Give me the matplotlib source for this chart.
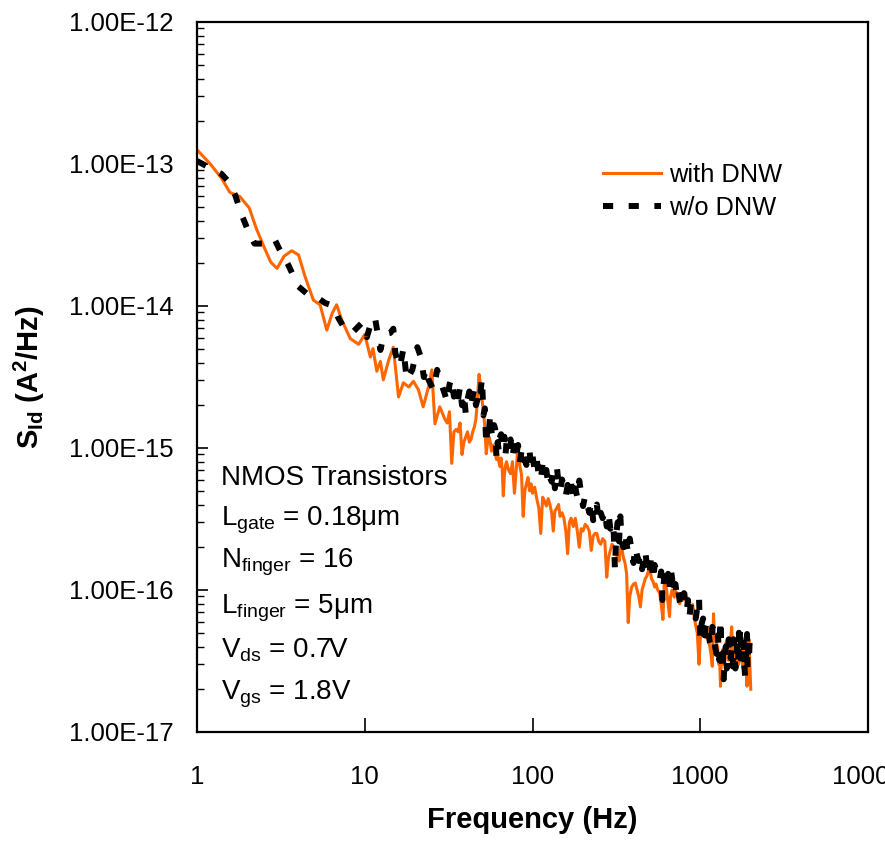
import matplotlib
matplotlib.use("Agg")
import matplotlib.pyplot as plt
from matplotlib.ticker import LogLocator, NullLocator, NullFormatter

plt.rcParams['font.family'] = ['Liberation Sans', 'DejaVu Sans']
plt.rcParams['mathtext.fontset'] = 'custom'
plt.rcParams['mathtext.rm'] = 'Liberation Sans'
plt.rcParams['mathtext.it'] = 'Liberation Sans:italic'
plt.rcParams['mathtext.bf'] = 'Liberation Sans:bold'

# ---------------- data ----------------
freq_with = [1, 1.2, 1.4, 1.57, 1.8, 2.05, 2.25, 2.5, 2.75, 3.0, 3.3, 3.67, 4.03, 4.4, 4.94,
             5.42, 5.94, 6.4, 6.8, 7.3, 8.2, 9.2, 10, 10.8, 11.2, 11.8, 12.4, 12.9, 13.9, 14.8,
             15.9, 17.0, 18.3, 19.5, 20.9, 22.3, 24, 25.1, 26.2, 28,
             30, 31, 32, 33, 34, 35, 36, 37, 38, 39, 40, 41, 42, 43, 44, 45, 46, 47, 48, 49,
             50, 51, 52, 53, 54, 55, 56, 57, 58, 59, 60, 61, 62, 63, 64, 65, 66, 67, 68, 69,
             70, 72, 74, 76, 78, 80, 82, 84, 86, 88, 90, 92, 94, 96, 98,
             100, 103, 106, 109, 112, 115, 118, 121, 124, 127, 130, 133, 136, 140, 143, 146, 150,
             154, 158, 162, 166, 170, 175, 180, 185, 190, 195,
             200, 206, 212, 218, 224, 230, 236, 242, 248, 255, 262, 270, 277, 284, 291, 298,
             305, 310, 316, 322, 328, 334, 340, 348, 356, 364, 372, 380, 390,
             400, 410, 420, 430, 440, 450, 460, 470, 480, 490,
             500, 512, 523, 535, 545, 558, 573, 585, 599, 612, 620, 630, 643, 656, 665, 680, 690,
             700, 712, 725, 740, 755, 770, 787, 800, 823, 845, 860, 880, 900, 920, 940, 960, 983,
             1000, 1020, 1040, 1060, 1080, 1100, 1120, 1140, 1160, 1180, 1200, 1215, 1230, 1250,
             1270, 1290, 1305, 1320, 1340, 1360, 1380, 1400, 1420, 1450, 1470, 1500, 1520, 1540,
             1560, 1590, 1610, 1640, 1665, 1690, 1715, 1740, 1770, 1800, 1825, 1850, 1875, 1900,
             1925, 1950, 1975, 2000]
sid_with = [1.26e-13, 1.00e-13, 7.94e-14, 6.31e-14, 5.9e-14, 4.9e-14, 3.55e-14, 2.63e-14, 2.04e-14, 1.84e-14,
            2.24e-14, 2.45e-14, 2.29e-14, 1.62e-14, 1.10e-14, 1.02e-14, 6.76e-15, 8.91e-15, 1.02e-14, 7.94e-15,
            5.89e-15, 5.37e-15, 6.31e-15, 4.37e-15, 5.01e-15, 3.47e-15, 4.07e-15, 3.02e-15, 4.17e-15, 5.13e-15,
            2.29e-15, 2.88e-15, 2.69e-15, 2.95e-15, 2.57e-15, 1.95e-15, 2.69e-15, 3.55e-15, 1.48e-15, 1.95e-15,
            1.6e-15, 1.5e-15, 1.8e-15, 7.8e-16, 1.3e-15, 1.35e-15, 1.3e-15, 1.5e-15, 9.0e-16, 1.1e-15,
            1.2e-15, 1.3e-15, 1.1e-15, 1.15e-15, 1.3e-15, 1.4e-15, 1.6e-15, 2.2e-15, 3.3e-15, 2.8e-15,
            2.2e-15, 1.8e-15, 1.4e-15, 9.1e-16, 1.1e-15, 1.2e-15, 1.1e-15, 9.5e-16, 1.05e-15, 1.0e-15,
            9.0e-16, 8.3e-16, 9.0e-16, 8.0e-16, 7.4e-16, 8.5e-16, 7.0e-16, 4.6e-16, 6.5e-16, 7.5e-16,
            8.0e-16, 7.0e-16, 6.6e-16, 8.0e-16, 4.8e-16, 7.0e-16, 1.07e-15, 7.5e-16, 6.5e-16, 3.3e-16,
            5.0e-16, 5.6e-16, 6.2e-16, 5.0e-16, 5.6e-16,
            4.8e-16, 5.3e-16, 4.4e-16, 3.8e-16, 2.5e-16, 4.5e-16, 4.2e-16, 3.9e-16, 4.4e-16, 4.0e-16,
            3.5e-16, 2.6e-16, 3.6e-16, 3.8e-16, 4.0e-16, 3.3e-16, 3.5e-16,
            3.2e-16, 2.6e-16, 1.8e-16, 3.0e-16, 3.2e-16, 2.8e-16, 3.2e-16, 2.6e-16, 2.0e-16, 2.7e-16,
            2.6e-16, 2.9e-16, 2.8e-16, 2.6e-16, 1.9e-16, 2.4e-16, 2.5e-16, 2.5e-16, 2.2e-16, 2.1e-16,
            2.3e-16, 2.2e-16, 1.23e-16, 1.7e-16, 1.9e-16, 2.1e-16,
            2.0e-16, 1.9e-16, 1.75e-16, 1.8e-16, 1.6e-16, 2.0e-16, 2.0e-16, 1.7e-16, 1.55e-16, 1.3e-16,
            5.9e-17, 9.0e-17, 1.05e-16,
            1.1e-16, 1.12e-16, 1.0e-16, 9.0e-17, 7.6e-17, 1.0e-16, 1.1e-16, 1.2e-16, 1.25e-16, 1.35e-16,
            1.45e-16, 1.2e-16, 1.15e-16, 1.05e-16, 1.1e-16, 1.0e-16, 9.5e-17, 8.0e-17, 6.2e-17, 1.23e-16,
            1.1e-16, 1.0e-16, 8.0e-17, 6.5e-17, 9.0e-17, 1.0e-16, 9.5e-17,
            8.9e-17, 9.8e-17, 9.5e-17, 8.5e-17, 8.0e-17, 9.0e-17, 9.5e-17, 8.5e-17, 9.5e-17, 8.0e-17,
            7.1e-17, 7.5e-17, 7.9e-17, 6.5e-17, 5.6e-17, 5.0e-17, 3.0e-17,
            4.5e-17, 5.6e-17, 5.3e-17, 5.0e-17, 4.6e-17, 5.25e-17, 4.5e-17, 4.0e-17, 3.5e-17, 2.9e-17,
            6.8e-17, 4.8e-17, 4.5e-17, 4.2e-17,
            4.0e-17, 3.0e-17, 3.3e-17, 2.1e-17, 3.5e-17, 3.8e-17, 3.0e-17, 3.2e-17, 4.2e-17, 4.5e-17,
            3.2e-17, 3.55e-17, 4.6e-17, 5.5e-17,
            3.6e-17, 4.0e-17, 3.0e-17, 3.55e-17, 3.8e-17, 3.0e-17, 3.5e-17, 4.0e-17, 3.2e-17, 2.8e-17,
            4.0e-17, 3.55e-17, 3.0e-17, 2.1e-17,
            3.3e-17, 4.5e-17, 3.0e-17, 2.0e-17]

freq_without = [1, 1.25, 1.4, 1.53, 1.69, 1.85, 2.0, 2.2, 2.6, 2.9, 3.1, 3.5, 4.0, 4.6, 5.2,
                5.8, 6.5, 7.0, 7.5, 8.4, 9.6, 10.3, 11.0, 11.5, 12.4, 13.0, 14.2, 14.8, 15.2, 16.2,
                17.0, 17.8, 19.2, 20.6, 21.6, 22.5, 23.3, 24, 25.7, 27, 28.1,
                30, 31, 32, 33, 34, 35, 36, 37, 38, 39, 40, 41, 42, 43, 44, 45, 46, 47, 48, 49,
                50, 51, 52, 53, 54, 55, 56, 57, 58, 59, 60, 61, 62, 63, 64, 65, 66, 67, 68, 69,
                70, 72, 74, 76, 78, 80, 82, 84, 86, 88, 90, 92, 94, 96, 98,
                100, 103, 106, 109, 112, 115, 118, 121, 124, 127, 130, 133, 136, 140, 143, 146, 150,
                154, 158, 162, 166, 170, 175, 180, 185, 190, 195,
                200, 206, 212, 218, 224, 230, 236, 242, 248, 255, 262, 270, 277, 284, 291, 298,
                305, 310, 316, 322, 328, 334, 340, 348, 356, 364, 372, 380, 390,
                400, 410, 420, 430, 440, 450, 460, 470, 480, 490,
                500, 512, 523, 535, 545, 558, 573, 585, 595, 610, 620, 630, 643, 656, 665, 680, 690,
                700, 712, 725, 740, 755, 770, 785, 800, 815, 830, 845, 862, 880, 900, 920, 940, 960, 983,
                1000, 1020, 1040, 1060, 1078, 1100, 1120, 1140, 1160, 1180, 1200, 1225, 1250, 1275,
                1300, 1320, 1335, 1350, 1365, 1380, 1400, 1420, 1440, 1460, 1480, 1500, 1520, 1540,
                1560, 1580, 1600, 1620, 1640, 1660, 1680, 1700, 1715, 1730, 1755, 1780, 1800, 1820,
                1835, 1850, 1865, 1880, 1900, 1915, 1930, 1950, 1975, 2000]
sid_without = [1.05e-13, 9.12e-14, 8.51e-14, 7.59e-14, 6.03e-14, 4.37e-14, 3.47e-14, 2.75e-14, 2.75e-14, 2.95e-14,
               2.51e-14, 1.95e-14, 1.38e-14, 1.20e-14, 1.15e-14, 1.05e-14, 1.00e-14, 8.13e-15, 7.08e-15, 6.46e-15,
               7.59e-15, 6.03e-15, 7.94e-15, 8.32e-15, 4.90e-15, 6.31e-15, 6.46e-15, 6.92e-15, 4.68e-15, 3.72e-15,
               5.01e-15, 3.02e-15, 3.55e-15, 5.13e-15, 4.37e-15, 3.16e-15, 3.63e-15, 3.02e-15, 2.57e-15, 3.55e-15,
               3.02e-15,
               2.4e-15, 2.1e-15, 2.8e-15, 3.1e-15, 2.3e-15, 2.6e-15, 2.2e-15, 2.7e-15, 2.0e-15, 2.4e-15,
               1.75e-15, 2.2e-15, 2.5e-15, 2.0e-15, 2.3e-15, 2.6e-15, 2.0e-15, 2.2e-15, 2.7e-15, 2.5e-15,
               3.1e-15, 1.7e-15, 1.9e-15, 1.05e-15, 1.5e-15, 1.3e-15, 1.75e-15, 1.3e-15, 1.15e-15, 1.45e-15,
               1.35e-15, 8.5e-16, 1.1e-15, 9.5e-16, 1.2e-15, 1.25e-15, 9.8e-16, 1.05e-15, 1.2e-15, 8.9e-16,
               1.1e-15, 1.0e-15, 1.15e-15, 8.4e-16, 1.1e-15, 9.0e-16, 1.05e-15, 7.9e-16, 9.5e-16, 1.02e-15,
               8.2e-16, 7.6e-16, 9.2e-16, 9.6e-16, 7.4e-16,
               8.8e-16, 7.0e-16, 8.3e-16, 6.4e-16, 5.9e-16, 7.8e-16, 6.5e-16, 7.0e-16, 5.5e-16, 6.2e-16,
               5.8e-16, 6.8e-16, 5.2e-16, 7.2e-16, 5.6e-16, 5.0e-16, 6.0e-16,
               5.3e-16, 4.6e-16, 5.5e-16, 4.9e-16, 5.6e-16, 4.3e-16, 5.2e-16, 4.5e-16, 5.9e-16, 4.8e-16,
               3.9e-16, 4.6e-16, 4.0e-16, 3.5e-16, 4.2e-16, 3.1e-16, 3.7e-16, 4.0e-16, 3.0e-16, 3.5e-16,
               3.2e-16, 3.6e-16, 2.8e-16, 3.5e-16, 2.7e-16, 3.0e-16,
               2.5e-16, 1.4e-16, 2.5e-16, 3.0e-16, 2.2e-16, 3.3e-16, 2.2e-16, 2.0e-16, 2.5e-16, 2.1e-16,
               1.8e-16, 2.3e-16, 1.9e-16,
               1.55e-16, 2.0e-16, 1.75e-16, 1.6e-16, 1.75e-16, 1.4e-16, 1.65e-16, 1.9e-16, 1.5e-16, 1.6e-16,
               1.35e-16, 1.8e-16, 1.17e-16, 1.5e-16, 1.4e-16, 1.25e-16, 1.17e-16, 1.35e-16, 8.5e-17, 1.25e-16,
               1.05e-16, 1.12e-16, 1.3e-16, 1.0e-16, 1.45e-16, 1.2e-16, 9.5e-17,
               1.05e-16, 1.1e-16, 9.0e-17, 1.0e-16, 8.3e-17, 7.6e-17, 9.0e-17, 9.5e-17, 7.5e-17, 7.1e-17,
               8.5e-17, 6.5e-17, 8.0e-17, 7.9e-17, 6.6e-17, 6.3e-17, 7.5e-17, 8.9e-17,
               4.5e-17, 5.8e-17, 6.3e-17, 4.8e-17, 5.5e-17, 6.0e-17, 5.0e-17, 4.3e-17, 4.0e-17, 5.5e-17,
               5.25e-17, 4.0e-17, 3.55e-17, 4.8e-17,
               3.2e-17, 6.2e-17, 4.0e-17, 2.9e-17, 3.6e-17, 2.35e-17, 3.3e-17, 4.0e-17, 2.8e-17, 3.2e-17,
               4.5e-17, 4.4e-17, 3.3e-17, 3.8e-17,
               2.9e-17, 4.5e-17, 3.6e-17, 2.8e-17, 3.3e-17, 4.0e-17, 3.0e-17, 5.0e-17, 3.8e-17, 5.5e-17,
               3.1e-17, 3.55e-17, 4.6e-17, 4.2e-17,
               2.9e-17, 2.45e-17, 3.3e-17, 3.55e-17, 4.9e-17, 2.8e-17, 3.9e-17, 3.2e-17, 4.6e-17, 4.0e-17]

series_labels = ["with DNW", "w/o DNW"]
x_ticks = [1, 10, 100, 1000, 10000]
x_tick_labels = ["1", "10", "100", "1000", "10000"]
y_ticks = [1e-17, 1e-16, 1e-15, 1e-14, 1e-13, 1e-12]
y_tick_labels = ["1.00E-17", "1.00E-16", "1.00E-15", "1.00E-14", "1.00E-13", "1.00E-12"]
annotation_lines = [
    "NMOS Transistors",
    r"L$_{\mathrm{gate}}$ = 0.18μm",
    r"N$_{\mathrm{finger}}$ = 16",
    r"L$_{\mathrm{finger}}$ = 5μm",
    r"V$_{\mathrm{ds}}$ = 0.7V",
    r"V$_{\mathrm{gs}}$ = 1.8V",
]

# ---------------- figure ----------------
W, H = 885, 841
fig = plt.figure(figsize=(W / 100, H / 100), dpi=100)
ax = fig.add_axes([197 / W, 1 - 732 / H, (868 - 197) / W, (732 - 22) / H])

ax.plot(freq_with, sid_with, color='#FF6600', lw=2.2, label=series_labels[0], zorder=2)
ax.plot(freq_without, sid_without, color='black', lw=4.3, linestyle=(0, (1.7, 2.6)),
        label=series_labels[1], zorder=3)

ax.set_xscale('log')
ax.set_yscale('log')
ax.set_xlim(1, 10000)
ax.set_ylim(1e-17, 1e-12)

ax.set_xticks(x_ticks)
ax.set_xticklabels(x_tick_labels)
ax.xaxis.set_minor_locator(NullLocator())
ax.set_yticks(y_ticks)
ax.set_yticklabels(y_tick_labels)
ax.yaxis.set_minor_locator(LogLocator(base=10, subs=range(2, 10), numticks=20))
ax.yaxis.set_minor_formatter(NullFormatter())

ax.tick_params(axis='x', which='major', direction='in', length=10, width=1.2,
               labelsize=18.5, pad=24, top=False)
ax.tick_params(axis='y', which='major', direction='in', length=8, width=1.2,
               labelsize=18.5, pad=17, right=False)
ax.tick_params(axis='y', which='minor', direction='in', length=5, width=1.0, right=False)

for s in ax.spines.values():
    s.set_linewidth(1.6)

ax.set_xlabel("Frequency (Hz)", fontsize=21, fontweight='bold')
ax.xaxis.set_label_coords(0.5, (732 - 806) / 710)
ax.set_ylabel(r"S$_{\mathbf{Id}}$ (A$^{\mathbf{2}}$/Hz)", fontsize=21, fontweight='bold')
ax.yaxis.set_label_coords((47 - 197) / 671, 0.5)

leg = ax.legend(loc='upper left', bbox_to_anchor=(603 / W, 1 - 163 / H),
                bbox_transform=fig.transFigure, frameon=False, fontsize=18.3,
                handlelength=2.3, handletextpad=0.3, labelspacing=0.35,
                borderpad=0, borderaxespad=0)

baselines = [485, 525, 568, 613, 657, 700]
for txt, yb in zip(annotation_lines, baselines):
    fig.text(221 / W, 1 - yb / H, txt, fontsize=20, va='baseline', ha='left')

fig.savefig("out.png", dpi=100)
